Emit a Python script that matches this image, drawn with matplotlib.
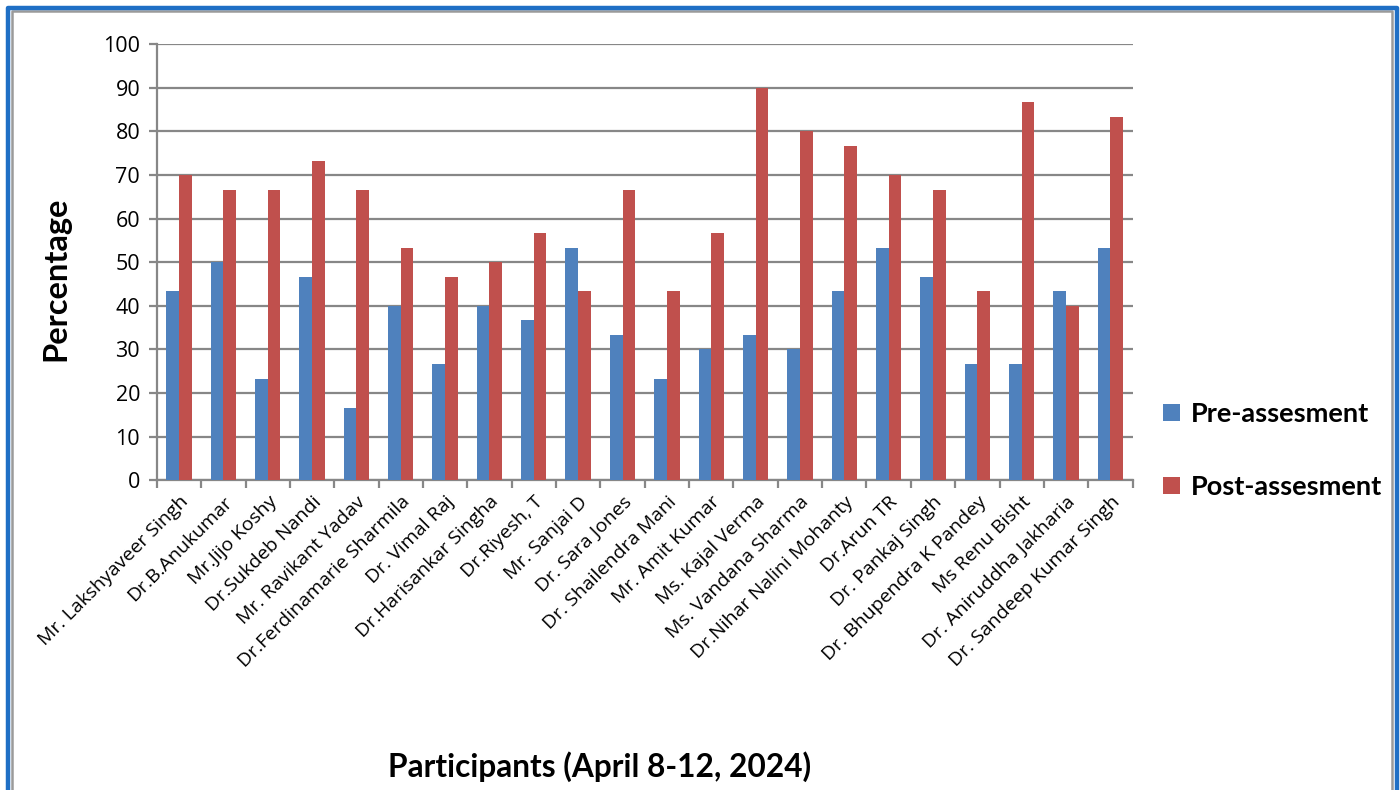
import numpy as np
import matplotlib.pyplot as plt
from matplotlib.lines import Line2D

participants = [
    "Mr. Lakshyaveer Singh", "Dr.B.Anukumar", "Mr.Jijo Koshy", "Dr.Sukdeb Nandi",
    "Mr. Ravikant Yadav", "Dr.Ferdinamarie Sharmila", "Dr. Vimal Raj",
    "Dr.Harisankar Singha", "Dr.Riyesh, T", "Mr. Sanjai D", "Dr. Sara Jones",
    "Dr. Shailendra Mani", "Mr. Amit Kumar", "Ms. Kajal Verma", "Ms. Vandana Sharma",
    "Dr.Nihar Nalini Mohanty", "Dr.Arun TR", "Dr. Pankaj Singh",
    "Dr. Bhupendra K Pandey", "Ms Renu Bisht", "Dr. Aniruddha Jakharia",
    "Dr. Sandeep Kumar Singh",
]
pre = [43.33, 50, 23.33, 46.67, 16.67, 40, 26.67, 40, 36.67, 53.33, 33.33,
       23.33, 30, 33.33, 30, 43.33, 53.33, 46.67, 26.67, 26.67, 43.33, 53.33]
post = [70, 66.67, 66.67, 73.33, 66.67, 53.33, 46.67, 50, 56.67, 43.33, 66.67,
        43.33, 56.67, 90, 80, 76.67, 70, 66.67, 43.33, 86.67, 40, 83.33]

blue = "#4F81BD"
red = "#C0504D"
grid_c = "#878787"

fig = plt.figure(figsize=(14, 7.9), dpi=100)
ax = fig.add_axes([0.112, 0.392, 0.697, 0.552])

x = np.arange(len(participants))
w = 1 / 3.5
ax.bar(x - w / 2, pre, w, color=blue, label="Pre-assesment", zorder=3)
ax.bar(x + w / 2, post, w, color=red, label="Post-assesment", zorder=3)

ax.set_xlim(-0.5, len(participants) - 0.5)
ax.set_ylim(0, 100)
ax.set_yticks(range(0, 101, 10))
ax.yaxis.grid(True, color=grid_c, linewidth=1.6, zorder=0)
ax.set_axisbelow(True)

ax.set_xticks(x)
ax.set_xticklabels(participants, rotation=45, ha="right", rotation_mode="anchor",
                   fontsize=14, family="Open Sans")
ax.set_xticks(np.arange(-0.5, len(participants), 1), minor=True)
ax.tick_params(axis="x", which="major", length=0, pad=9)
ax.tick_params(axis="x", which="minor", length=6, width=1.6, color=grid_c)
ax.tick_params(axis="y", length=6, width=1.6, color=grid_c, labelsize=15.5, pad=6,
               labelfontfamily="Open Sans")

for s in ["top", "right"]:
    ax.spines[s].set_visible(False)
for s in ["left", "bottom"]:
    ax.spines[s].set_color(grid_c)
    ax.spines[s].set_linewidth(1.6)

ax.set_ylabel("Percentage", fontsize=23.5, fontweight="bold", family="Lato")
ax.yaxis.set_label_coords(-0.089, 0.461)
fig.text(0.4286, 0.029, "Participants (April 8-12, 2024)", fontsize=22.8,
         fontweight="bold", family="Lato", ha="center", va="center")

fig.legend(loc="center left", bbox_to_anchor=(0.8136, 0.43), frameon=False,
           prop={"family": "Lato", "weight": "bold", "size": 19.5},
           handlelength=0.6, handleheight=0.6, handletextpad=0.4, labelspacing=1.8)

# outer frame
W, H = 1400, 790
def fx(px):
    return px / W
def fy(py):
    return 1 - py / H
fig.add_artist(Line2D([fx(11.5), fx(11.5), fx(1391.5), fx(1391.5)],
                      [fy(800), fy(10.5), fy(10.5), fy(800)],
                      color="#9a9a9a", linewidth=1.8))
fig.add_artist(Line2D([fx(8), fx(8), fx(1396.5), fx(1396.5)],
                      [fy(800), fy(7.5), fy(7.5), fy(800)],
                      color="#1F6FC5", linewidth=3.2))

fig.savefig("out.png", dpi=100)
